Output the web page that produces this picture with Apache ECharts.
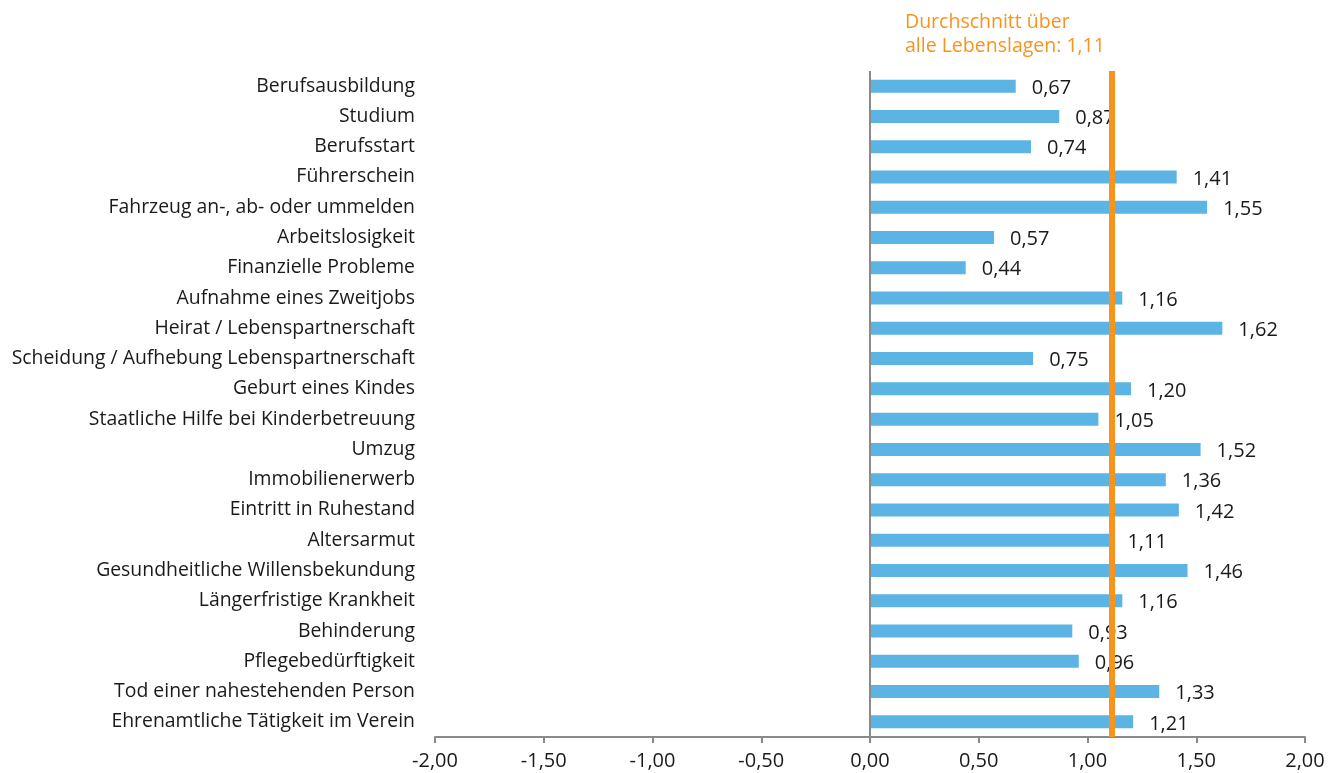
<!DOCTYPE html>
<html>
<head>
<meta charset="utf-8">
<script src="https://cdn.jsdelivr.net/npm/echarts@6/dist/echarts.min.js"></script>
<style>
  html, body { margin: 0; padding: 0; background: #fff; }
  #chart { width: 1330px; height: 773px; }
</style>
</head>
<body>
<div id="chart"></div>
<script>
// Life situations, listed top to bottom
const categories = [
  'Berufsausbildung',
  'Studium',
  'Berufsstart',
  'Führerschein',
  'Fahrzeug an-, ab- oder ummelden',
  'Arbeitslosigkeit',
  'Finanzielle Probleme',
  'Aufnahme eines Zweitjobs',
  'Heirat / Lebenspartnerschaft',
  'Scheidung / Aufhebung Lebenspartnerschaft',
  'Geburt eines Kindes',
  'Staatliche Hilfe bei Kinderbetreuung',
  'Umzug',
  'Immobilienerwerb',
  'Eintritt in Ruhestand',
  'Altersarmut',
  'Gesundheitliche Willensbekundung',
  'Längerfristige Krankheit',
  'Behinderung',
  'Pflegebedürftigkeit',
  'Tod einer nahestehenden Person',
  'Ehrenamtliche Tätigkeit im Verein'
];

// Score per life situation
const values = [
  0.67, 0.87, 0.74, 1.41, 1.55, 0.57, 0.44, 1.16, 1.62, 0.75, 1.20,
  1.05, 1.52, 1.36, 1.42, 1.11, 1.46, 1.16, 0.93, 0.96, 1.33, 1.21
];

// Average over all life situations
const average = 1.11;
const averageLabel = ['Durchschnitt über', 'alle Lebenslagen: 1,11'];

// Value axis range
const axisMin = -2;
const axisMax = 2;
const axisStep = 0.5;

const fmt = v => v.toFixed(2).replace('.', ',');
const FONT = '"Open Sans", "Noto Sans", sans-serif';
const GRAY = '#8a8a8a';
const ORANGE = '#F7941D';
const INK = '#1a1a1a';

const chart = echarts.init(document.getElementById('chart'), null, { renderer: 'canvas' });

chart.setOption({
  animation: false,
  backgroundColor: '#ffffff',
  textStyle: { fontFamily: FONT },
  grid: { left: 435, right: 25, top: 71, bottom: 36, containLabel: false },
  graphic: [{
    type: 'text',
    left: 905,
    top: 10,
    style: {
      text: averageLabel.join('\n'),
      fill: ORANGE,
      font: '19.5px ' + FONT,
      lineHeight: 24
    }
  }],
  xAxis: {
    type: 'value',
    min: axisMin,
    max: axisMax,
    interval: axisStep,
    axisLine: { show: true, lineStyle: { color: GRAY, width: 2 } },
    axisTick: { show: true, length: 6, lineStyle: { color: GRAY, width: 2 } },
    splitLine: { show: false },
    axisLabel: {
      formatter: fmt,
      color: INK,
      fontSize: 20,
      fontFamily: FONT,
      margin: 14
    }
  },
  yAxis: {
    type: 'category',
    data: categories,
    inverse: true,
    axisLine: { show: false, onZero: false },
    axisTick: { show: false },
    axisLabel: {
      color: INK,
      fontSize: 19.4,
      fontFamily: FONT,
      margin: 20,
      padding: [4, 0, 0, 0]
    }
  },
  series: [{
    type: 'bar',
    data: values,
    barWidth: 13,
    itemStyle: { color: '#5CB4E4' },
    label: {
      show: true,
      position: 'right',
      distance: 16,
      offset: [0, 2],
      formatter: p => fmt(p.value),
      color: INK,
      fontSize: 20,
      fontFamily: FONT
    },
    markLine: {
      silent: true,
      symbol: 'none',
      label: { show: false },
      z: 5,
      data: [
        { xAxis: 0, lineStyle: { color: GRAY, width: 2, type: 'solid' } },
        { xAxis: average, lineStyle: { color: ORANGE, width: 6, type: 'solid' } }
      ]
    }
  }]
});
</script>
</body>
</html>
